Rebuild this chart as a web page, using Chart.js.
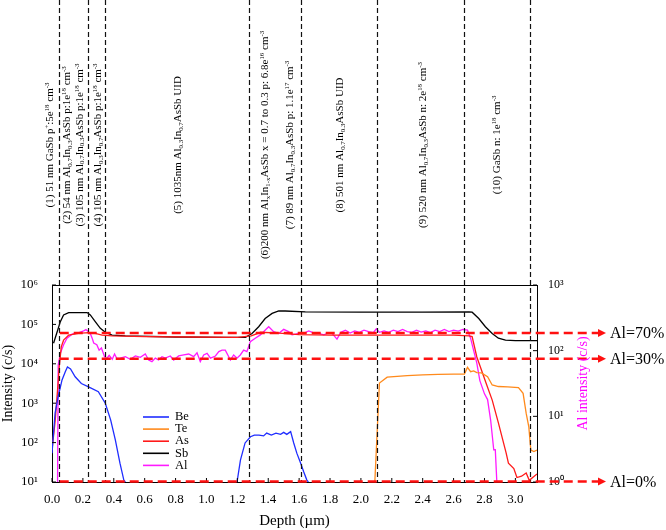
<!DOCTYPE html>
<html>
<head>
<meta charset="utf-8">
<script src="https://cdn.jsdelivr.net/npm/chart.js@4.4.1/dist/chart.umd.min.js"></script>
<style>
  html, body { margin: 0; padding: 0; background: #fff; }
</style>
</head>
<body>
<canvas id="sims" width="666" height="530"></canvas>
<script>
// ==============================
// SIMS DEPTH PROFILE DATA
// ==============================

const serif = '"Liberation Serif", "Times New Roman", serif';

// Be (c/s), left axis
const beDepth  = [0.0, 0.02, 0.04, 0.065, 0.086, 0.10, 0.12, 0.15, 0.19, 0.24, 0.30, 0.345, 0.38, 0.41, 0.44, 0.465, 0.475,
                  0.8,
                  1.198, 1.22, 1.25, 1.285, 1.31, 1.34, 1.37, 1.39, 1.42, 1.45, 1.48, 1.50, 1.52, 1.545, 1.565, 1.585, 1.61, 1.63, 1.65, 1.66];
const beCounts = [54, 562, 1480, 3890, 6310, 8300, 7400, 4680, 3160, 2570, 1950, 1000, 372, 117, 30, 11.2, 10,
                  null,
                  10, 36, 98, 141, 155, 155, 148, 174, 155, 174, 162, 182, 162, 190, 98, 54, 30, 18, 11.2, 10];

// Te (c/s), left axis
const teDepth  = [2.09, 2.12, 2.17, 2.3, 2.4, 2.5, 2.6, 2.67, 2.69, 2.71, 2.73, 2.75, 2.78, 2.82, 2.85, 2.89, 2.95, 3.02, 3.05, 3.07, 3.087, 3.10, 3.12, 3.14];
const teCounts = [10, 3240, 4570, 5010, 5250, 5370, 5500, 5500, 8100, 6300, 6600, 6000, 5900, 4700, 2900, 2650, 2600, 2500, 1780, 550, 250, 65, 59, 65];

// As (c/s), left axis
const asDepth  = [0.0, 0.021, 0.036, 0.047, 0.06, 0.075, 0.108, 0.17, 0.237, 0.28, 0.324, 0.39, 0.6, 0.9, 1.2, 1.29, 1.35, 1.47, 1.6, 1.8, 2.0, 2.3, 2.6, 2.7, 2.72, 2.75, 2.81, 2.85, 2.89, 2.94, 2.955, 2.99, 3.01, 3.04, 3.07, 3.09, 3.14];
const asCounts = [65, 372, 2190, 8500, 26900, 39800, 53700, 58900, 61700, 58900, 53700, 51300, 49000, 47900, 46800, 51300, 63100, 60300, 55000, 53700, 53700, 53700, 53700, 51300, 49000, 15100, 3240, 1200, 316, 55, 30, 22, 13, 14, 17, 11, 16];

// Sb (c/s), left axis
const sbDepth  = [0.01, 0.03, 0.054, 0.075, 0.108, 0.227, 0.248, 0.28, 0.313, 0.345, 0.389, 0.475, 0.8, 1.12, 1.252, 1.295, 1.338, 1.38, 1.425, 1.468, 1.51, 1.64, 2.0, 2.4, 2.70, 2.72, 2.763, 2.806, 2.85, 2.89, 2.936, 3.0, 3.14];
const sbCounts = [33100, 58900, 117500, 173800, 199500, 199500, 173800, 117500, 79400, 63100, 53700, 51300, 47900, 46800, 46800, 58900, 87100, 141300, 190500, 218800, 218800, 208900, 204200, 204200, 208900, 204200, 141300, 87100, 58900, 44700, 39800, 38900, 38900];

// Al (c/s), right axis
const alDepth  = [0.036, 0.04, 0.054, 0.075, 0.097, 0.13, 0.17, 0.205, 0.22, 0.235, 0.25, 0.26, 0.27, 0.29, 0.305, 0.32, 0.34, 0.355, 0.37, 0.39, 0.405, 0.42,
                  0.442, 0.475, 0.507, 0.54, 0.572, 0.604, 0.626, 0.647, 0.669, 0.69, 0.712, 0.734, 0.766, 0.788, 0.82, 0.853, 0.885, 0.917, 0.939, 0.96, 0.982, 1.004, 1.026, 1.058, 1.08, 1.101,
                  1.122, 1.155, 1.176, 1.198, 1.219, 1.241, 1.262, 1.284, 1.316, 1.349, 1.381, 1.403, 1.435, 1.467, 1.50, 1.532, 1.554, 1.576, 1.608, 1.63, 1.662, 1.694, 1.727, 1.759, 1.791, 1.813,
                  1.83, 1.845, 1.87, 1.9, 1.93, 1.96, 1.99, 2.02, 2.05, 2.08, 2.10, 2.12, 2.15, 2.18, 2.21, 2.24, 2.27, 2.30, 2.33, 2.36, 2.39, 2.42, 2.45, 2.48, 2.51, 2.54, 2.57, 2.60, 2.63, 2.66, 2.69,
                  2.71, 2.73, 2.75, 2.77, 2.80, 2.82, 2.84, 2.86, 2.87, 2.88];
const alCounts = [1, 60, 91, 123, 155, 178, 186, 200, 209, 195, 178, 155, 131, 123, 102, 110, 81, 76, 85, 74, 89, 76,
                  77, 81, 74, 83, 79, 89, 72, 68, 77, 72, 81, 77, 83, 72, 83, 86, 89, 81, 93, 68, 86, 91, 77, 83, 97, 102,
                  102, 72, 86, 77, 86, 102, 97, 137, 155, 174, 207, 232, 195, 183, 211, 195, 174, 178, 187, 183, 200, 187, 183, 174, 187, 183,
                  165, 150, 190, 205, 185, 200, 190, 205, 195, 188, 215, 190, 200, 190, 205, 195, 210, 195, 190, 205, 192, 200, 188, 205, 195, 210, 195, 205, 198, 210, 205,
                  155, 100, 65, 35, 22, 18, 8.7, 3.1, 3.1, 1];

const leftTicks  = [1e1, 1e2, 1e3, 1e4, 1e5, 1e6];
const rightTicks = [1, 10, 100, 1000];

// layer boundaries and layer descriptions (depth, µm)
const layerBounds = [0.047, 0.235, 0.345, 1.278, 1.614, 2.107, 2.67, 3.097];
const layerLabelDepth = [-0.011, 0.099, 0.183, 0.30, 0.818, 1.382, 1.544, 1.867, 2.405, 2.884];
const layerLabels = [
    '(1) 51 nm GaSb p^{+}:5e^{18} cm^{-3}',
    '(2) 54 nm Al_{0.7}In_{0.3}AsSb p:1e^{18} cm^{-3}',
    '(3) 105 nm Al_{0.7}In_{0.3}AsSb p:1e^{18} cm^{-3}',
    '(4) 105 nm Al_{0.3}In_{0.7}AsSb p:1e^{18} cm^{-3}',
    '(5) 1035nm Al_{0.3}In_{0.7}AsSb UID',
    '(6)200 nm Al_{x}In_{1-x}AsSb x = 0.7 to 0.3 p: 6.8e^{16} cm^{-3}',
    '(7) 89 nm Al_{0.7}In_{0.3}AsSb p: 1.1e^{17} cm^{-3}',
    '(8) 501 nm Al_{0.7}In_{0.3}AsSb UID',
    '(9) 520 nm Al_{0.7}In_{0.3}AsSb n: 2e^{18} cm^{-3}',
    '(10) GaSb n: 1e^{18} cm^{-3}'
];

// Al reference levels on the right axis
const alLevelCounts = [186, 75, 1];
const alLevelLabels = ['Al=70%', 'Al=30%', 'Al=0%'];

function pts(xs, ys) {
    return xs.map((x, i) => ({ x: x, y: ys[i] }));
}

const SUP = { '0': '⁰', '1': '¹', '2': '²', '3': '³', '4': '⁴', '5': '⁵', '6': '⁶' };
function powLabel(v) {
    const e = Math.round(Math.log10(v));
    return '10' + String(e).split('').map(c => SUP[c]).join('');
}

// text with _{sub} and ^{sup}, centred on the origin
function drawRich(ctx, str, size) {
    const small = size * 0.62;
    const segs = str.split(/(_\{[^}]*\}|\^\{[^}]*\})/).filter(s => s).map(p => {
        if (p[0] === '_') return { t: p.slice(2, -1), s: small, dy: size * 0.22 };
        if (p[0] === '^') return { t: p.slice(2, -1), s: small, dy: -size * 0.3 };
        return { t: p, s: size, dy: 0 };
    });
    let total = 0;
    segs.forEach(g => {
        ctx.font = g.s + 'px ' + serif;
        g.w = ctx.measureText(g.t).width;
        total += g.w;
    });
    let x = -total / 2;
    segs.forEach(g => {
        ctx.font = g.s + 'px ' + serif;
        ctx.fillText(g.t, x, g.dy);
        x += g.w;
    });
}

// ==============================
// DECORATION PLUGIN
// ==============================

const decor = {
    id: 'decor',
    afterDatasetsDraw(chart) {
        const ctx = chart.ctx;
        const a = chart.chartArea;
        const xs = chart.scales.x, ys = chart.scales.y, y2 = chart.scales.y2;

        ctx.save();

        // top frame
        ctx.strokeStyle = '#000';
        ctx.lineWidth = 1;
        ctx.beginPath();
        ctx.moveTo(a.left, a.top + 0.5);
        ctx.lineTo(a.right, a.top + 0.5);
        ctx.stroke();

        // inward ticks
        ctx.beginPath();
        leftTicks.forEach(v => {
            const y = ys.getPixelForValue(v);
            ctx.moveTo(a.left, y); ctx.lineTo(a.left + 4, y);
        });
        rightTicks.forEach(v => {
            const y = y2.getPixelForValue(v);
            ctx.moveTo(a.right, y); ctx.lineTo(a.right - 4, y);
        });
        xs.ticks.forEach(t => {
            const x = xs.getPixelForValue(t.value);
            ctx.moveTo(x, a.bottom); ctx.lineTo(x, a.bottom - 4);
        });
        ctx.stroke();

        // layer boundaries
        ctx.setLineDash([5, 3]);
        ctx.lineWidth = 1.2;
        ctx.strokeStyle = '#111';
        layerBounds.forEach(d => {
            const x = Math.round(xs.getPixelForValue(d)) + 0.5;
            ctx.beginPath();
            ctx.moveTo(x, 0);
            ctx.lineTo(x, a.bottom);
            ctx.stroke();
        });

        // Al level arrows
        ctx.setLineDash([9, 5]);
        ctx.lineWidth = 2.5;
        ctx.strokeStyle = '#ff1010';
        ctx.fillStyle = '#ff1010';
        const x0 = xs.getPixelForValue(0.05);
        const x1 = a.right + 63;
        alLevelCounts.forEach((v, i) => {
            const y = Math.min(y2.getPixelForValue(v), a.bottom - 0.5);
            ctx.beginPath();
            ctx.moveTo(x0, y);
            ctx.lineTo(x1, y);
            ctx.stroke();
            ctx.beginPath();
            ctx.moveTo(x1 - 2, y - 4);
            ctx.lineTo(x1 + 6, y);
            ctx.lineTo(x1 - 2, y + 4);
            ctx.closePath();
            ctx.fill();
            ctx.fillStyle = '#000';
            ctx.font = '16px ' + serif;
            ctx.textAlign = 'left';
            ctx.textBaseline = 'middle';
            ctx.fillText(alLevelLabels[i], x1 + 10, y + 1);
            ctx.fillStyle = '#ff1010';
        });
        ctx.setLineDash([]);

        // legend
        const lx = a.left + 91, ly = a.top + 132;
        ctx.font = '12.5px ' + serif;
        ctx.textAlign = 'left';
        ctx.textBaseline = 'middle';
        chart.data.datasets.forEach((ds, i) => {
            const y = ly + i * 12.1;
            ctx.strokeStyle = ds.borderColor;
            ctx.lineWidth = 1.6;
            ctx.beginPath();
            ctx.moveTo(lx, y);
            ctx.lineTo(lx + 26, y);
            ctx.stroke();
            ctx.fillStyle = '#000';
            ctx.fillText(ds.label, lx + 32, y);
        });

        // layer descriptions
        ctx.fillStyle = '#000';
        ctx.textAlign = 'left';
        ctx.textBaseline = 'middle';
        layerLabels.forEach((txt, i) => {
            ctx.save();
            ctx.translate(xs.getPixelForValue(layerLabelDepth[i]), 145);
            ctx.rotate(-Math.PI / 2);
            drawRich(ctx, txt, 11);
            ctx.restore();
        });

        // right axis title
        ctx.save();
        ctx.translate(a.right + 46, (a.top + a.bottom) / 2);
        ctx.rotate(-Math.PI / 2);
        ctx.fillStyle = '#ff00ff';
        ctx.font = '14px ' + serif;
        ctx.textAlign = 'center';
        ctx.textBaseline = 'middle';
        ctx.fillText('Al intensity (c/s)', 0, 0);
        ctx.restore();

        ctx.restore();
    }
};

// ==============================
// CHART
// ==============================

function lineSet(label, data, color, axis) {
    return {
        label: label,
        data: data,
        borderColor: color,
        backgroundColor: color,
        borderWidth: 1.3,
        pointRadius: 0,
        tension: 0,
        spanGaps: false,
        yAxisID: axis
    };
}

new Chart(document.getElementById('sims'), {
    type: 'line',
    data: {
        datasets: [
            lineSet('Be', pts(beDepth, beCounts), '#1f2dff', 'y'),
            lineSet('Te', pts(teDepth, teCounts), '#ff8a1c', 'y'),
            lineSet('As', pts(asDepth, asCounts), '#ff1a1a', 'y'),
            lineSet('Sb', pts(sbDepth, sbCounts), '#000000', 'y'),
            lineSet('Al', pts(alDepth, alCounts), '#ff1aff', 'y2')
        ]
    },
    options: {
        responsive: false,
        animation: false,
        events: [],
        layout: { padding: { top: 285, left: 0, right: 0, bottom: 0 } },
        plugins: {
            legend: { display: false },
            tooltip: { enabled: false }
        },
        scales: {
            x: {
                type: 'linear',
                min: 0,
                max: 3.14,
                afterFit: s => { s.height = 48; },
                border: { color: '#000', width: 1 },
                grid: { display: false, drawTicks: false },
                ticks: {
                    stepSize: 0.2,
                    includeBounds: false,
                    maxRotation: 0,
                    autoSkip: false,
                    padding: 10,
                    color: '#000',
                    font: { family: serif, size: 13 },
                    callback: v => v.toFixed(1)
                },
                title: {
                    display: true,
                    text: 'Depth (µm)',
                    color: '#000',
                    font: { family: serif, size: 15 },
                    padding: { top: 0, bottom: 0 }
                }
            },
            y: {
                type: 'logarithmic',
                position: 'left',
                min: 10,
                max: 1e6,
                afterFit: s => { s.width = 52; },
                afterBuildTicks: s => { s.ticks = leftTicks.map(v => ({ value: v })); },
                border: { color: '#000', width: 1 },
                grid: { display: false, drawTicks: false },
                ticks: {
                    padding: 14,
                    color: '#000',
                    font: { family: serif, size: 13 },
                    callback: v => powLabel(v)
                },
                title: {
                    display: true,
                    text: 'Intensity (c/s)',
                    color: '#000',
                    font: { family: serif, size: 14 },
                    padding: { top: 0, bottom: 0 }
                }
            },
            y2: {
                type: 'logarithmic',
                position: 'right',
                min: 1,
                max: 1000,
                afterFit: s => { s.width = 129; },
                afterBuildTicks: s => { s.ticks = rightTicks.map(v => ({ value: v })); },
                border: { color: '#000', width: 1 },
                grid: { display: false, drawTicks: false },
                ticks: {
                    padding: 11,
                    color: '#000',
                    font: { family: serif, size: 12 },
                    callback: v => powLabel(v)
                }
            }
        }
    },
    plugins: [decor]
});
</script>
</body>
</html>
